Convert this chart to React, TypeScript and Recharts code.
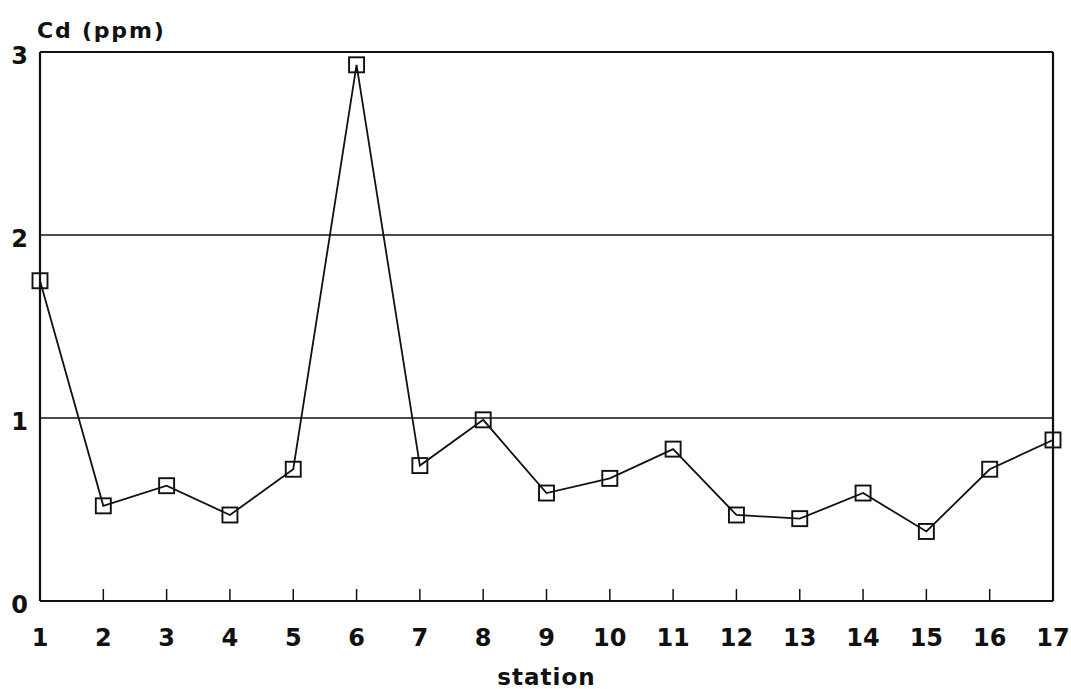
import { LineChart, Line, XAxis, YAxis, CartesianGrid, Label } from 'recharts';

// Cadmium concentration per sampling station
const stations = [1, 2, 3, 4, 5, 6, 7, 8, 9, 10, 11, 12, 13, 14, 15, 16, 17];
const cdPpm = [1.75, 0.52, 0.63, 0.47, 0.72, 2.93, 0.74, 0.99, 0.59, 0.67, 0.83, 0.47, 0.45, 0.59, 0.38, 0.72, 0.88];
const yTicks = [0, 1, 2, 3];

const data = stations.map((station, i) => ({ station, cd: cdPpm[i] }));

const INK = '#111';
const FONT = '"DejaVu Sans", "Liberation Sans", sans-serif';

const StationTick = ({ x, y, payload }: any) => (
  <g>
    <line x1={x} x2={x} y1={y} y2={y - 12} stroke={INK} strokeWidth={1.5} />
    <text x={x} y={y + 45} textAnchor="middle" fontFamily={FONT} fontWeight={700} fontSize={24} fill={INK}>
      {payload.value}
    </text>
  </g>
);

const PpmTick = ({ x, y, payload }: any) => (
  <text x={x - 12} y={y + 12} textAnchor="end" fontFamily={FONT} fontWeight={700} fontSize={24} fill={INK}>
    {payload.value}
  </text>
);

const SquareDot = ({ cx, cy }: any) => (
  <rect x={cx - 7.5} y={cy - 7.5} width={15} height={15} fill="none" stroke={INK} strokeWidth={1.9} />
);

export default function App() {
  return (
    <div style={{ position: 'absolute', left: 0, top: 0, width: 1071, height: 689, background: '#fff' }}>
      <LineChart width={1071} height={689} data={data} margin={{ top: 51, right: 17, bottom: 87, left: 39 }}>
        <CartesianGrid vertical={false} stroke={INK} strokeWidth={1.4} />
        <XAxis
          dataKey="station"
          type="number"
          domain={[1, 17]}
          ticks={stations}
          height={1}
          tickSize={0}
          tickMargin={0}
          tickLine={false}
          tick={<StationTick />}
          axisLine={{ stroke: INK, strokeWidth: 2.2 }}
          interval={0}
        >
          <Label
            content={({ viewBox }: any) => (
              <text
                x={viewBox.x + viewBox.width / 2}
                y={viewBox.y + 84}
                textAnchor="middle"
                fontFamily={FONT}
                fontWeight={700}
                fontSize={23}
                letterSpacing={1}
                fill={INK}
              >
                station
              </text>
            )}
          />
        </XAxis>
        <XAxis
          xAxisId="top"
          orientation="top"
          type="number"
          domain={[1, 17]}
          height={1}
          tick={false}
          tickLine={false}
          axisLine={{ stroke: INK, strokeWidth: 2.2 }}
        />
        <YAxis
          domain={[0, 3]}
          ticks={yTicks}
          width={1}
          tickSize={0}
          tickMargin={0}
          tickLine={false}
          tick={<PpmTick />}
          axisLine={{ stroke: INK, strokeWidth: 2.2 }}
        >
          <Label
            content={({ viewBox }: any) => (
              <text
                x={viewBox.x - 2}
                y={viewBox.y - 14}
                fontFamily={FONT}
                fontWeight={700}
                fontSize={22}
                letterSpacing={1.8}
                fill={INK}
              >
                Cd (ppm)
              </text>
            )}
          />
        </YAxis>
        <YAxis
          yAxisId="right"
          orientation="right"
          domain={[0, 3]}
          width={1}
          tick={false}
          tickLine={false}
          axisLine={{ stroke: INK, strokeWidth: 2.2 }}
        />
        <Line
          dataKey="cd"
          stroke={INK}
          strokeWidth={1.8}
          dot={<SquareDot />}
          activeDot={false}
          isAnimationActive={false}
        />
      </LineChart>
    </div>
  );
}
